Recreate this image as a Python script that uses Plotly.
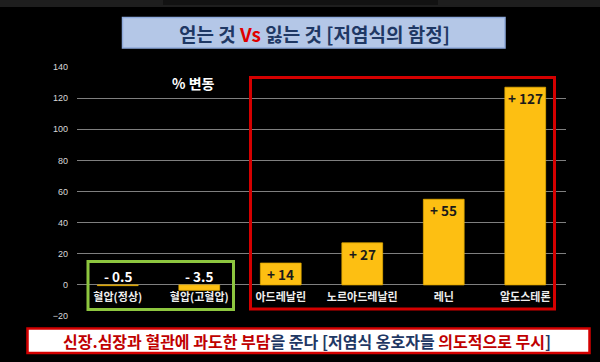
import plotly.graph_objects as go

categories = ["혈압(정상)", "혈압(고혈압)", "아드레날린", "노르아드레날린", "레닌", "알도스테론"]
changes = [-0.5, -3.5, 14, 27, 55, 127]
y_ticks = [-20, 0, 20, 40, 60, 80, 100, 120, 140]

W, H = 600, 362
L, R, T, B = 77, 34, 67, 46
PW, PH = W - L - R, H - T - B
FONT = "Noto Sans CJK KR"


def px(x):
    return (x - L) / PW


def py(y):
    return (H - B - y) / PH


def fmt(v):
    return ("+ " if v > 0 else "- ") + f"{abs(v):g}"


fig = go.Figure()
fig.add_trace(go.Bar(
    x=categories, y=changes, width=0.5,
    marker=dict(color="#fdbf12", line=dict(color="#e0a800", width=0.8)),
    hoverinfo="skip",
))

annotations = []
for c, v in zip(categories, changes):
    if v > 0:
        annotations.append(dict(x=c, y=v, xref="x", yref="y", text=fmt(v), showarrow=False,
                                xanchor="center", yanchor="top", yshift=1,
                                font=dict(family=FONT, size=13.5, color="#1a1a1a", weight="bold")))
    else:
        annotations.append(dict(x=c, y=0, xref="x", yref="y", text=fmt(v), showarrow=False,
                                xanchor="center", yanchor="bottom", yshift=-3,
                                font=dict(family=FONT, size=13.5, color="#ffffff", weight="bold")))

annotations += [
    dict(x=px(314), y=py(33), xref="paper", yref="paper", showarrow=False,
         xanchor="center", yanchor="middle",
         text="얻는 것 <span style='color:#e00000'>Vs</span> 잃는 것 [저염식의 함정]",
         font=dict(family=FONT, size=19, color="#1f3864", weight="bold")),
    dict(x=px(193), y=py(83), xref="paper", yref="paper", showarrow=False,
         xanchor="center", yanchor="middle",
         text="% 변동", font=dict(family=FONT, size=14, color="#ffffff", weight="bold")),
    dict(x=px(307), y=py(341), xref="paper", yref="paper", showarrow=False,
         xanchor="center", yanchor="middle",
         text="<span style='color:#c00000'>신장.심장과 혈관에 과도한 부담</span>을 준다 [저염식 옹호자들 "
              "<span style='color:#c00000'>의도적으로 무시</span>]",
         font=dict(family=FONT, size=16, color="#1f3864", weight="bold")),
]

shapes = [
    # top strip
    dict(type="rect", xref="paper", yref="paper", x0=px(0), x1=px(600), y0=py(0), y1=py(7),
         fillcolor="#1e1e1e", line=dict(width=0), layer="below"),
    dict(type="rect", xref="paper", yref="paper", x0=px(163), x1=px(438), y0=py(0), y1=py(5),
         fillcolor="#121212", line=dict(width=0), layer="below"),
    # title box
    dict(type="rect", xref="paper", yref="paper", x0=px(122.5), x1=px(505), y0=py(17.5), y1=py(48),
         fillcolor="#b4c7e7", line=dict(color="#8faadc", width=1.5), layer="below"),
    # green box
    dict(type="rect", xref="paper", yref="paper", x0=px(88), x1=px(233.5), y0=py(261.5), y1=py(309.5),
         line=dict(color="#8dc63f", width=3), layer="above"),
    # red box
    dict(type="rect", xref="paper", yref="paper", x0=px(250.5), x1=px(554.5), y0=py(77.5), y1=py(309),
         line=dict(color="#d40000", width=3), layer="above"),
    # bottom box
    dict(type="rect", xref="paper", yref="paper", x0=px(27.5), x1=px(589.5), y0=py(328.5), y1=py(353),
         fillcolor="#ffffff", line=dict(color="#d40000", width=2.5), layer="below"),
]

fig.update_layout(
    width=W, height=H,
    margin=dict(l=L, r=R, t=T, b=B),
    paper_bgcolor="#000000", plot_bgcolor="#000000",
    showlegend=False,
    bargap=0.5,
    annotations=annotations,
    shapes=shapes,
    xaxis=dict(
        type="category", anchor="free", position=(0 - y_ticks[0]) / (y_ticks[-1] - y_ticks[0]),
        showgrid=False, showline=False, zeroline=False, ticks="",
        ticklabelstandoff=4,
        tickfont=dict(family=FONT, size=11, color="#eeeeee", weight="bold"),
    ),
    yaxis=dict(
        range=[y_ticks[0], y_ticks[-1]], tickvals=y_ticks,
        showgrid=True, gridcolor="#7f7f7f", gridwidth=1,
        zeroline=True, zerolinecolor="#7f7f7f", zerolinewidth=1,
        showline=False, ticks="", ticklabelstandoff=8,
        tickfont=dict(family="Liberation Sans", size=9, color="#d9d9d9"),
    ),
)

fig.write_html(
    "out.html",
    config={"displayModeBar": False},
    post_script="document.body.style.margin='0';document.body.style.background='#000';",
)
